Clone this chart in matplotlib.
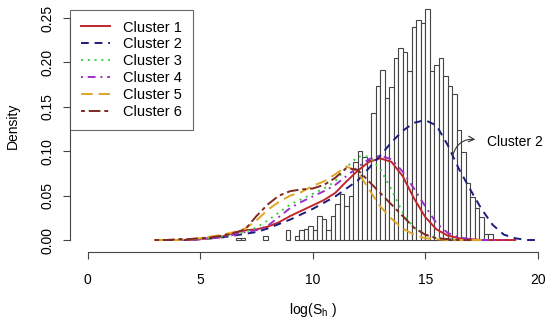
import numpy as np
import matplotlib
matplotlib.use("Agg")
import matplotlib.pyplot as plt

plt.rcParams['font.family'] = ['Liberation Sans', 'DejaVu Sans']

# histogram of log(Sh): left edge of each 0.2-wide bin and its density
hist_left = [6.6, 6.8, 7.8, 8.8, 9.2, 9.4, 9.6, 9.8, 10.0, 10.2, 10.4, 10.6, 10.8,
             11.0, 11.2, 11.4, 11.6, 11.8, 12.0, 12.2, 12.4, 12.6, 12.8, 13.0,
             13.2, 13.4, 13.6, 13.8, 14.0, 14.2, 14.4, 14.6, 14.8, 15.0, 15.2,
             15.4, 15.6, 15.8, 16.0, 16.2, 16.4, 16.6, 16.8, 17.0, 17.2, 17.4,
             17.6, 17.8]
hist_density = [0.002, 0.002, 0.004, 0.011, 0.004, 0.011, 0.012, 0.016, 0.011,
                0.027, 0.024, 0.011, 0.027, 0.040, 0.052, 0.038, 0.050, 0.088,
                0.100, 0.094, 0.090, 0.143, 0.173, 0.192, 0.160, 0.172, 0.205,
                0.216, 0.212, 0.190, 0.240, 0.248, 0.244, 0.260, 0.190, 0.197,
                0.205, 0.185, 0.173, 0.165, 0.124, 0.099, 0.064, 0.048, 0.036,
                0.026, 0.007, 0.007]
bin_width = 0.2

# density curves of each cluster, read at x = 3.0, 3.5, ..., 20.0
dens_x = [3.0, 3.5, 4.0, 4.5, 5.0, 5.5, 6.0, 6.5, 7.0, 7.5, 8.0, 8.5, 9.0, 9.5,
          10.0, 10.5, 11.0, 11.5, 12.0, 12.5, 13.0, 13.5, 14.0, 14.5, 15.0,
          15.5, 16.0, 16.5, 17.0, 17.5, 18.0, 18.5, 19.0, 19.5, 20.0]
nan = np.nan
cluster1 = [0.000, 0.000, 0.000, 0.000, 0.001, 0.002, 0.004, 0.008, 0.011, 0.012,
            0.015, 0.020, 0.027, 0.033, 0.039, 0.045, 0.053, 0.066, 0.078, 0.088,
            0.092, 0.088, 0.072, 0.047, 0.026, 0.012, 0.005, 0.002, 0.001, 0.000,
            0.000, 0.000, 0.000, nan, nan]
cluster2 = [nan, 0.000, 0.000, 0.000, 0.001, 0.002, 0.003, 0.005, 0.007, 0.009,
            0.013, 0.018, 0.023, 0.029, 0.035, 0.042, 0.049, 0.058, 0.067, 0.081,
            0.095, 0.110, 0.123, 0.132, 0.135, 0.129, 0.107, 0.080, 0.057, 0.035,
            0.017, 0.006, 0.002, 0.000, 0.000]
cluster3 = [nan, 0.000, 0.000, 0.001, 0.001, 0.002, 0.004, 0.006, 0.009, 0.014,
            0.022, 0.031, 0.040, 0.046, 0.052, 0.058, 0.066, 0.082, 0.094, 0.094,
            0.080, 0.057, 0.031, 0.014, 0.006, 0.003, 0.001, 0.000, 0.000, 0.000,
            0.000, nan, nan, nan, nan]
cluster4 = [nan, 0.000, 0.000, 0.000, 0.001, 0.002, 0.003, 0.006, 0.009, 0.011,
            0.016, 0.026, 0.036, 0.043, 0.049, 0.055, 0.062, 0.072, 0.082, 0.091,
            0.095, 0.091, 0.077, 0.058, 0.038, 0.019, 0.008, 0.003, 0.001, 0.000,
            0.000, 0.000, nan, nan, nan]
cluster5 = [0.000, 0.000, 0.000, 0.001, 0.002, 0.004, 0.006, 0.009, 0.013, 0.022,
            0.034, 0.043, 0.050, 0.054, 0.061, 0.066, 0.074, 0.083, 0.077, 0.057,
            0.038, 0.024, 0.013, 0.006, 0.002, 0.001, 0.000, 0.000, 0.000, 0.000,
            nan, nan, nan, nan, nan]
cluster6 = [0.000, 0.000, 0.001, 0.001, 0.002, 0.003, 0.005, 0.008, 0.012, 0.027,
            0.040, 0.050, 0.055, 0.057, 0.058, 0.062, 0.070, 0.081, 0.079, 0.066,
            0.053, 0.040, 0.027, 0.014, 0.006, 0.002, 0.001, 0.000, 0.000, nan,
            nan, nan, nan, nan, nan]

labels = ["Cluster 1", "Cluster 2", "Cluster 3", "Cluster 4", "Cluster 5", "Cluster 6"]
colors = ["#C0262C", "#1C1C7A", "#3DCC3D", "#9B30C8", "#E0A526", "#7E2A22"]
dashes = [None, (4, 3), (1, 2.5), (1, 2.5, 4, 2.5), (6, 3), (2, 2, 6, 2)]
curves = [cluster1, cluster2, cluster3, cluster4, cluster5, cluster6]

fig = plt.figure(figsize=(5.5, 3.24), dpi=100)
# plot region in pixels: x 69.7..555.7, y 0..252 (from top)
ax = fig.add_axes([69.7 / 550, 72 / 324, 486 / 550, 252 / 324])
ax.set_xlim(-0.8, 20.8)
ax.set_ylim(-0.0135, 0.2703)

ax.bar(hist_left, hist_density, width=bin_width, align='edge',
       facecolor='white', edgecolor='#444444', linewidth=0.8, zorder=1)

for y, lab, c, d in zip(curves, labels, colors, dashes):
    line, = ax.plot(dens_x, y, color=c, lw=1.4, label=lab, zorder=3)
    if d is not None:
        line.set_dashes(d)

ax.annotate('', xy=(17.35, 0.113), xytext=(16.2, 0.093),
            arrowprops=dict(arrowstyle='->', color='#333333', lw=0.8,
                            connectionstyle='arc3,rad=-0.45'))
ax.text(17.75, 0.110, 'Cluster 2', fontsize=10, va='center', ha='left')

for s in ['top', 'right']:
    ax.spines[s].set_visible(False)
ax.spines['left'].set_bounds(0, 0.25)
ax.spines['bottom'].set_bounds(0, 20)
for s in ['left', 'bottom']:
    ax.spines[s].set_color('#444444')
    ax.spines[s].set_linewidth(0.8)

ax.set_xticks([0, 5, 10, 15, 20])
ax.set_yticks([0.00, 0.05, 0.10, 0.15, 0.20, 0.25])
ax.set_yticklabels(['0.00', '0.05', '0.10', '0.15', '0.20', '0.25'],
                   rotation=90, va='center')
ax.tick_params(axis='both', length=5, width=0.8, color='#444444', labelsize=10)
ax.tick_params(axis='x', pad=10)
ax.tick_params(axis='y', pad=6)

ax.set_xlabel(r'log(S$_{\mathregular{h}}$ )', fontsize=10, labelpad=10)
ax.set_ylabel('Density', fontsize=10, labelpad=15)

leg = ax.legend(loc='upper left', bbox_to_anchor=(0, 0.962), fontsize=10.5,
                frameon=True, fancybox=False, edgecolor='#444444',
                handlelength=2.0, handletextpad=0.9, labelspacing=0.2,
                borderpad=0.75, borderaxespad=0)
leg.get_frame().set_linewidth(0.8)

fig.savefig('out.png', dpi=100)
